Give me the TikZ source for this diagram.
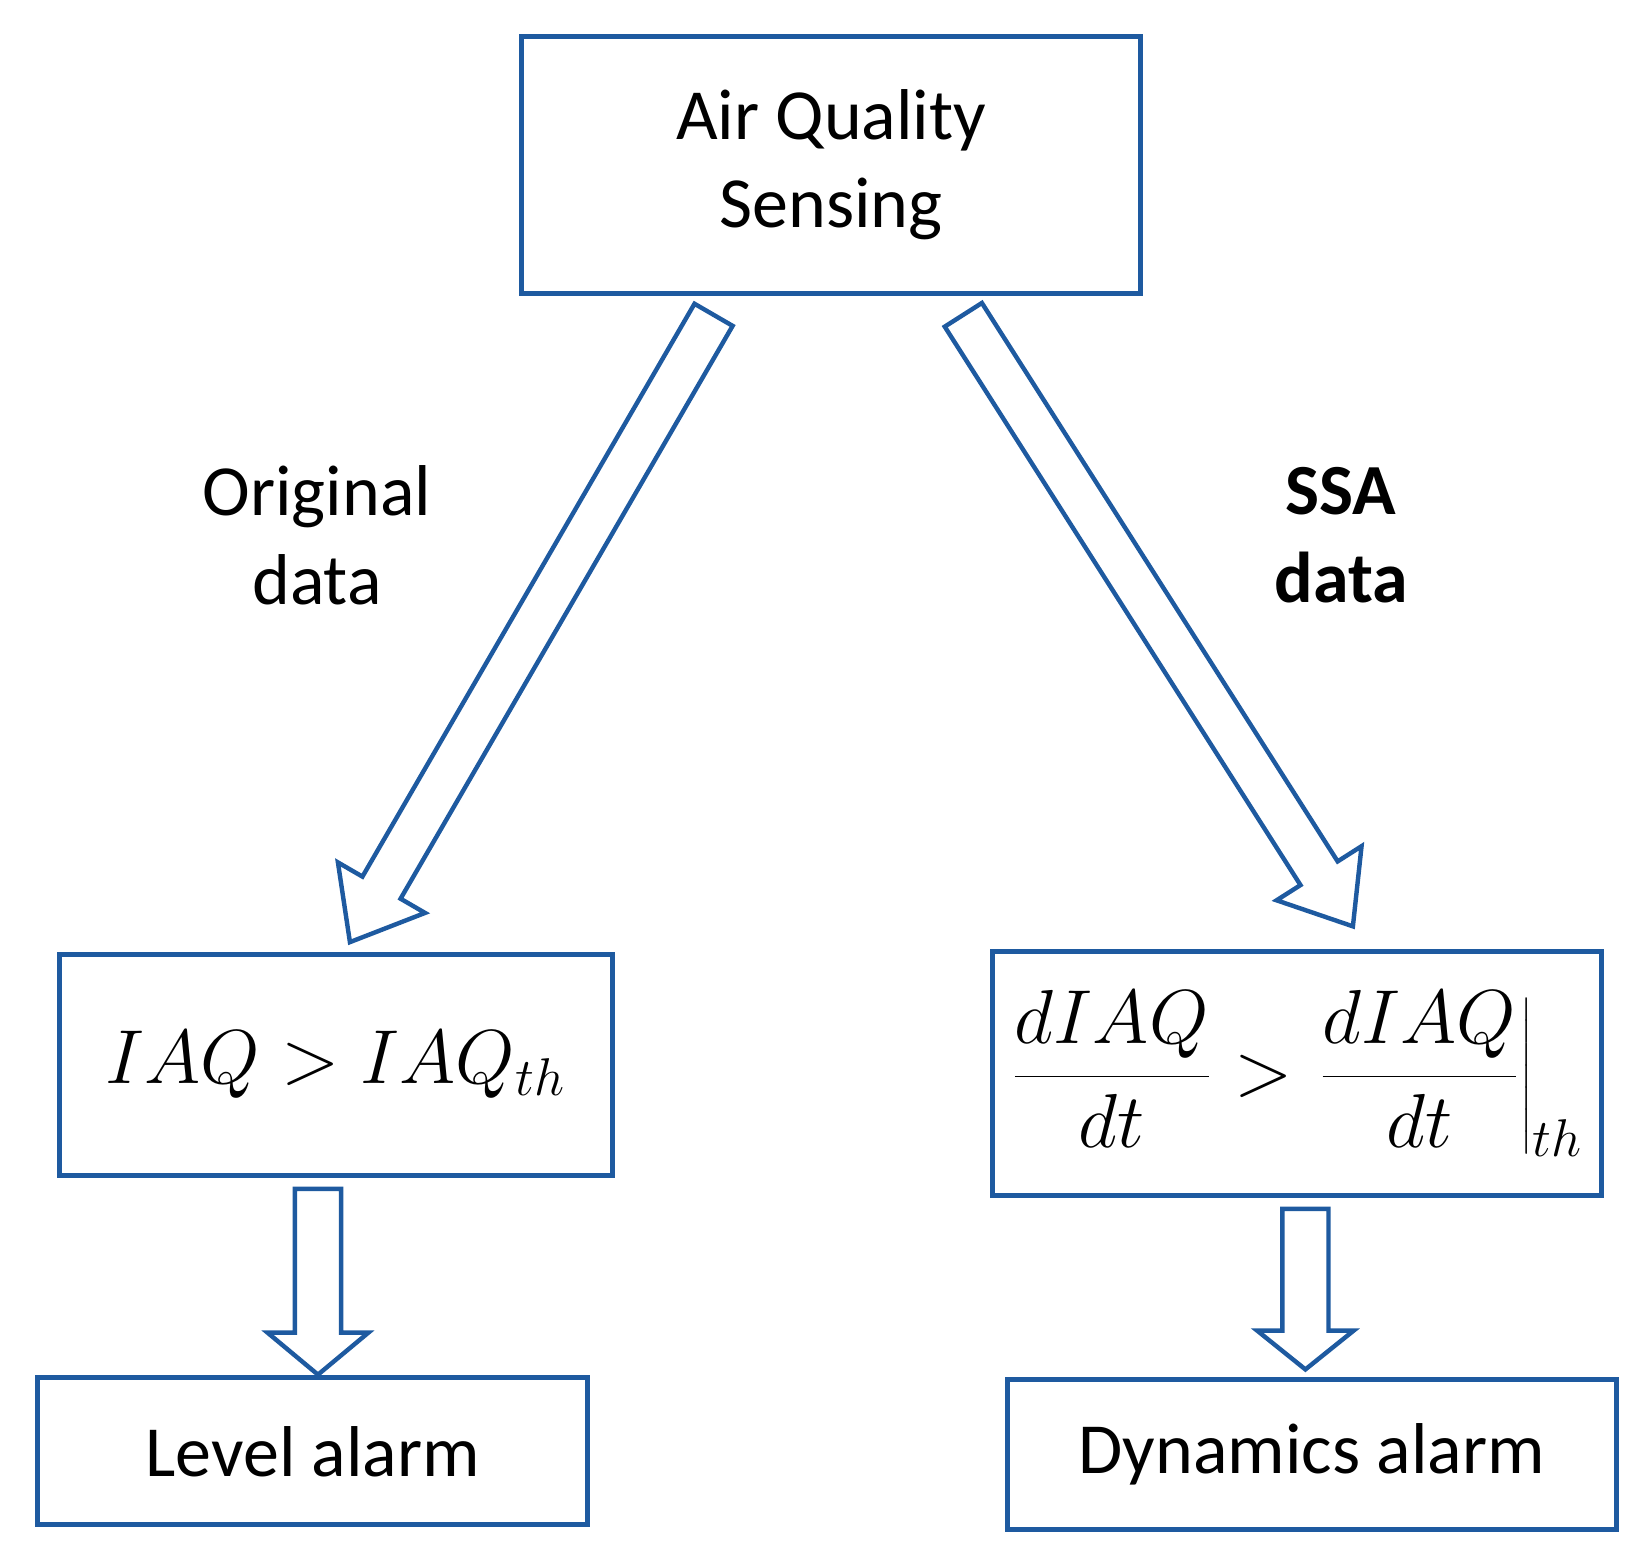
\documentclass[tikz,border=0pt]{standalone}
\usepackage{fontspec}
\setmainfont{Carlito}
\begin{document}
\begin{tikzpicture}[x=0.01cm,y=-0.01cm,
  bx/.style={draw=bl,line width=1.4pt,inner sep=0pt},
  hol/.style={draw=bl,line width=1.2pt,fill=white,line join=miter},
  txt/.style={font=\fontsize{19.5}{24}\selectfont,align=center}]
\definecolor{bl}{RGB}{30,90,160}
\useasboundingbox (0,0) rectangle (1560,1490);
\node[bx,minimum width=5.90cm,minimum height=2.45cm,txt] (top) at (792,157) {Air Quality\\Sensing};
\node[bx,minimum width=5.27cm,minimum height=2.10cm] (lv) at (320,1015) {\fontsize{22}{26}\selectfont$IAQ > IAQ_{th}$};
\node[bx,minimum width=5.80cm,minimum height=2.33cm] (dy) at (1236,1023) {\fontsize{22}{26}\selectfont$\displaystyle\frac{dIAQ}{dt} > \left.\frac{dIAQ}{dt}\right|_{th}$};
\node[bx,minimum width=5.24cm,minimum height=1.40cm,txt] (la) at (298,1383) {Level alarm};
\node[bx,minimum width=5.80cm,minimum height=1.43cm,txt] (da) at (1250,1386) {Dynamics alarm};
\node[txt] (od) at (302,510) {Original\\data};
\node[txt,font=\fontsize{19.5}{24}\selectfont\bfseries] (ssa) at (1278,510) {SSA\\data};
% hollow arrows
\begin{scope}[shift={(680,300)},rotate=-120.1]
\draw[hol] (0,-21)--(631,-21)--(631,-48)--(691,0)--(631,48)--(631,21)--(0,21)--cycle;
\end{scope}
\begin{scope}[shift={(918,300)},rotate=-57.5]
\draw[hol] (0,-21)--(631,-21)--(631,-48)--(691,0)--(631,48)--(631,21)--(0,21)--cycle;
\end{scope}
\begin{scope}[shift={(303,1133)},rotate=-90]
\draw[hol] (0,-22)--(137,-22)--(137,-48)--(177,0)--(137,48)--(137,22)--(0,22)--cycle;
\end{scope}
\begin{scope}[shift={(1244,1152)},rotate=-90]
\draw[hol] (0,-22)--(116,-22)--(116,-46)--(153,0)--(116,46)--(116,22)--(0,22)--cycle;
\end{scope}
\end{tikzpicture}
\end{document}
